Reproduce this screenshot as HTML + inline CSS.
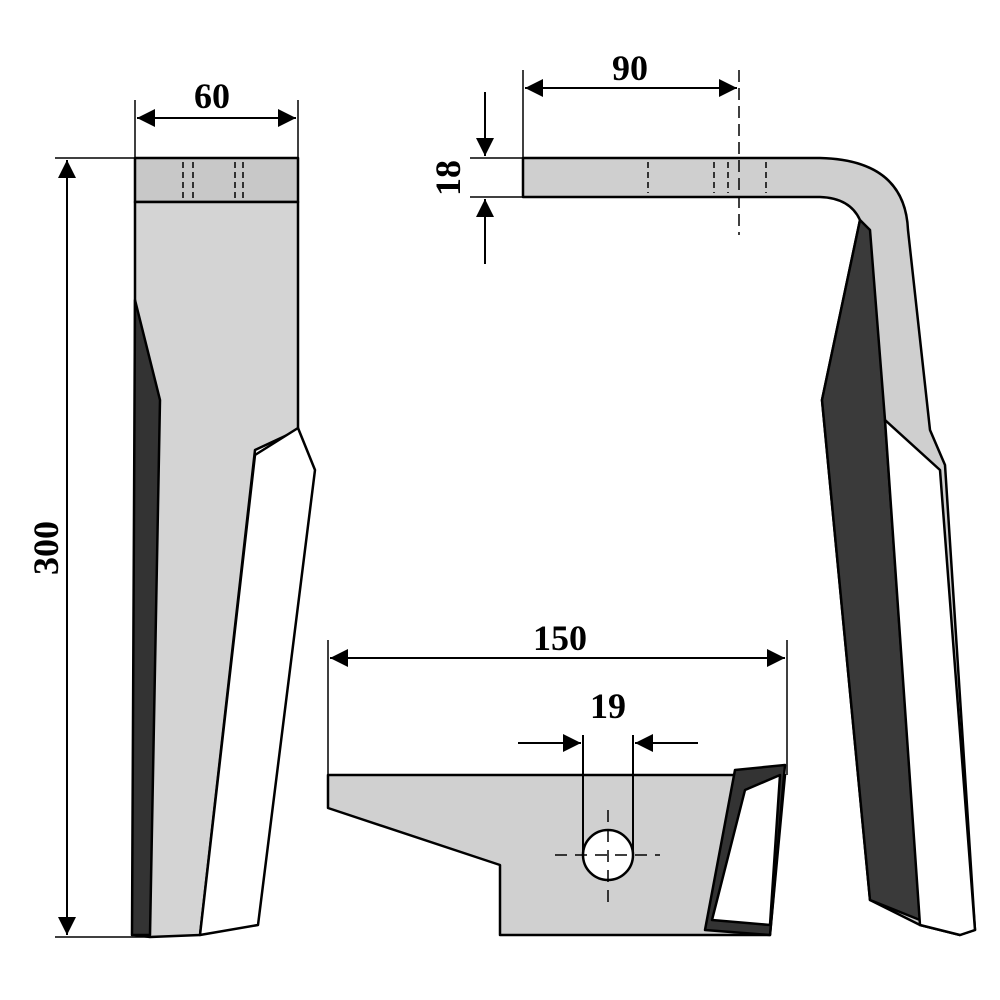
<!DOCTYPE html>
<html><head><meta charset="utf-8"><style>body{margin:0;background:#fff}svg{display:block}</style></head><body>
<svg width="1000" height="1000" viewBox="0 0 1000 1000" xmlns="http://www.w3.org/2000/svg">
<defs>
<marker id="a" viewBox="0 0 10 10" refX="10" refY="5" markerWidth="8" markerHeight="6" orient="auto-start-reverse" markerUnits="userSpaceOnUse"><path d="M0,0L10,5L0,10z" fill="#000"/></marker>
<marker id="b" viewBox="0 0 10 10" refX="10" refY="5" markerWidth="28" markerHeight="18" orient="auto-start-reverse" markerUnits="userSpaceOnUse"><path d="M0,0L10,5L0,10z" fill="#000"/></marker>
</defs>
<g stroke="#000" stroke-width="2.5" stroke-linejoin="round">
<!-- left view -->
<rect x="135" y="158" width="163" height="44" fill="#c8c8c8"/>
<path d="M135,202H298V430L255,450L200,935L150,937L135,935Z" fill="#d4d4d4"/>
<path d="M135,300L160,400L150,935L132,935Z" fill="#333"/>
<path d="M255,455L298,428L315,470L258,925L200,935Z" fill="#fff"/>
<!-- right view -->
<path d="M523,158H820Q905,160 908,230L930,430L945,465L975,930L960,935L920,925L870,900L822,400L860,220Q850,198 820,197H523Z" fill="#cfcfcf"/>
<path d="M860,220L822,400L870,900L920,920L885,420L870,230Z" fill="#3a3a3a"/>
<path d="M885,420L940,470L975,930L960,935L920,925Z" fill="#fff"/>
<!-- bottom view -->
<path d="M328,775H785L770,935H500V865L328,808Z" fill="#d0d0d0"/>
<path d="M735,770L785,765L770,935L705,930Z" fill="#333"/>
<path d="M745,790L780,775L770,925L712,920Z" fill="#fff"/>
<circle cx="608" cy="855" r="25" fill="#fff"/>
</g>
<g stroke="#000" stroke-width="1.5" fill="none">
<path d="M183,162V198M193,162V198M235,162V198M243,162V198" stroke-dasharray="6,4"/>
<path d="M648,162V193M714,162V193M728,162V193M766,162V193" stroke-dasharray="6,4"/>
<path d="M739,70V235" stroke-dasharray="12,6"/>
<path d="M583,735V855M633,735V855" stroke-width="2"/>
<path d="M555,855H660M608,810V905" stroke-dasharray="12,8"/>
<!-- dimension lines -->
<path d="M135,100V158M298,100V158"/>
<path d="M137,118H296" marker-start="url(#b)" marker-end="url(#b)" stroke-width="2"/>
<path d="M55,158H135M55,937H150"/>
<path d="M67,160V935" marker-start="url(#b)" marker-end="url(#b)" stroke-width="2"/>
<path d="M523,70V158"/>
<path d="M525,88H737" marker-start="url(#b)" marker-end="url(#b)" stroke-width="2"/>
<path d="M470,158H523M470,197H523"/>
<path d="M485,92V156" marker-end="url(#b)" stroke-width="2"/>
<path d="M485,264V199" marker-end="url(#b)" stroke-width="2"/>
<path d="M328,640V775M787,640V775"/>
<path d="M330,658H785" marker-start="url(#b)" marker-end="url(#b)" stroke-width="2"/>
<path d="M518,743H581" marker-end="url(#b)" stroke-width="2"/>
<path d="M698,743H635" marker-end="url(#b)" stroke-width="2"/>
</g>
<g font-family="Liberation Serif, serif" font-weight="bold" font-size="36" text-anchor="middle" fill="#000">
<text x="212" y="108">60</text>
<text x="630" y="80">90</text>
<text x="560" y="650">150</text>
<text x="608" y="718">19</text>
<text transform="translate(58,548) rotate(-90)">300</text>
<text transform="translate(460,178) rotate(-90)">18</text>
</g>
</svg>
</body></html>
